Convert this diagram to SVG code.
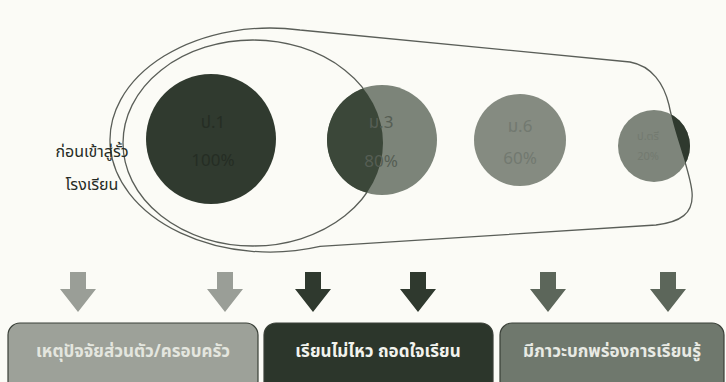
<svg xmlns="http://www.w3.org/2000/svg" width="726" height="382" viewBox="0 0 726 382">
<style>
.ln{fill:none;stroke:#5a5e58;stroke-width:1.3}
.lbl{font-family:"Noto Sans Thai","Noto Sans","DejaVu Sans",sans-serif;font-size:16px;fill:#262b25;text-anchor:middle}
.cl{font-family:"Noto Sans Thai","Liberation Sans Narrow","Liberation Sans",sans-serif;font-size:17px;text-anchor:middle}
.bt{font-family:"Noto Sans Thai","Noto Sans","DejaVu Sans",sans-serif;font-size:17px;font-weight:bold;text-anchor:middle}
.box{stroke:#3a4038;stroke-width:1.2}
</style>
<defs>
<path id="arr" d="M-8,0 H8 V17 H18 L0,40 L-18,17 H-8 Z"/>
<clipPath id="inner"><ellipse cx="253" cy="143" rx="130" ry="103"/></clipPath>
<clipPath id="outside"><path clip-rule="evenodd" d="M0,0 H726 V382 H0 Z M300,30 L630,62 C652,66 664,84 669,105 C676,140 690,170 692,192 C694,214 680,222 656,225 L320,246.4 A160,112 0 1 1 300,30 Z"/></clipPath>
</defs>
<rect width="726" height="382" fill="#fbfbf6"/>
<g id="connectors">
<path class="ln" d="M300,30 L630,62 C652,66 664,84 669,105 C676,140 690,170 692,192 C694,214 680,222 656,225 L320,246.4 A160,112 0 1 1 300,30 Z"/>
<ellipse class="ln" cx="253" cy="143" rx="130" ry="103"/>
</g>
<g id="label-left">
<text class="lbl" x="92" y="157">ก่อนเข้าสู่รั้ว</text>
<text class="lbl" x="92" y="190">โรงเรียน</text>
</g>
<g id="c1">
<circle cx="211" cy="139" r="65" fill="#303a2f"/>
<text class="cl" x="213" y="128" fill="#252d24">ป.1</text>
<text class="cl" x="213" y="166" fill="#252d24">100%</text>
</g>
<g id="c2">
<circle cx="382" cy="140" r="55" fill="#7c8479"/>
<circle cx="382" cy="140" r="55" fill="#3b4739" clip-path="url(#inner)"/>
<text class="cl" x="381" y="128" fill="#565e54">ม.3</text>
<text class="cl" x="381" y="167" fill="#565e54">80%</text>
</g>
<g id="c3">
<circle cx="520" cy="140" r="46" fill="#858b81"/>
<text class="cl" x="520" y="132" fill="#727970">ม.6</text>
<text class="cl" x="520" y="164" fill="#727970">60%</text>
</g>
<g id="c4">
<circle cx="654" cy="146" r="36" fill="#7e857b"/>
<circle cx="654" cy="146" r="36" fill="#2f392e" clip-path="url(#outside)"/>
<text class="cl" x="648" y="140" fill="#737a70" style="font-size:11px">ป.ตรี</text>
<text class="cl" x="648" y="160" fill="#737a70" style="font-size:11px">20%</text>
</g>
<g id="arrows">
<use href="#arr" x="78" y="272" fill="#9a9e97"/>
<use href="#arr" x="225" y="272" fill="#9a9e97"/>
<use href="#arr" x="313" y="272" fill="#2f392e"/>
<use href="#arr" x="418" y="272" fill="#2f392e"/>
<use href="#arr" x="548" y="272" fill="#5c665a"/>
<use href="#arr" x="668" y="272" fill="#5c665a"/>
</g>
<g id="box1">
<rect class="box" x="8" y="323" width="250" height="70" rx="12" fill="#9da199"/>
<text class="bt" x="133" y="357" fill="#e4e6df">เหตุปัจจัยส่วนตัว/ครอบครัว</text>
</g>
<g id="box2">
<rect class="box" x="264" y="323" width="229" height="70" rx="12" fill="#2c362b"/>
<text class="bt" x="378" y="357" fill="#f2f3ee">เรียนไม่ไหว ถอดใจเรียน</text>
</g>
<g id="box3">
<rect class="box" x="500" y="323" width="224" height="70" rx="12" fill="#6f786d"/>
<text class="bt" x="612" y="357" fill="#e8eae4">มีภาวะบกพร่องการเรียนรู้</text>
</g>
</svg>
